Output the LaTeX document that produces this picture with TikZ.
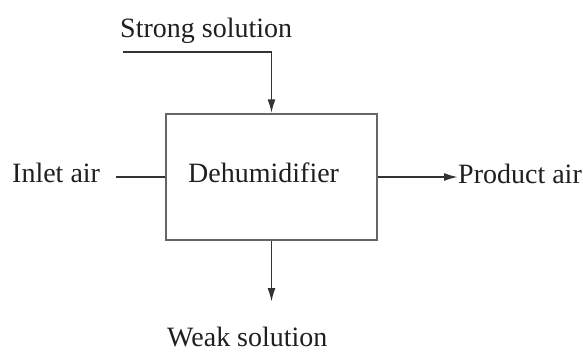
\documentclass[tikz,border=0pt]{standalone}
\usepackage{fontspec}
\setmainfont{Liberation Serif}
\usetikzlibrary{arrows.meta}
\begin{document}
\begin{tikzpicture}[x=1bp,y=-1bp,
  lbl/.style={font=\fontsize{28bp}{32bp}\selectfont, text=black!88, inner sep=0pt, anchor=base west},
  flow/.style={line width=1.9bp, draw=black!80},
  arr/.style={-{Latex[length=14bp,width=8bp]}}]
\useasboundingbox (0,0) rectangle (583,352);
\node[draw=black!60, line width=1.4bp, minimum width=211bp, minimum height=126bp, inner sep=0pt] (box) at (271.5,177) {};
\node[lbl] (deh) at (188,182) {Dehumidifier};
\node[lbl] (strong) at (120,37) {Strong solution};
\node[lbl] (inlet) at (12,182) {Inlet air};
\node[lbl] (prod) at (458,183) {Product air};
\node[lbl] (weak) at (167,346.5) {Weak solution};
\coordinate (s0) at (123,52);
\coordinate (in0) at (116,177);
\coordinate (w0) at (271.5,302);
\draw[flow,arr] (s0) -| (box.north);
\draw[flow] (in0) -- (box.west);
\draw[flow,arr] (box.east) -- (box.east -| prod.west);
\draw[flow,arr] (box.south) -- (w0);
\end{tikzpicture}
\end{document}
